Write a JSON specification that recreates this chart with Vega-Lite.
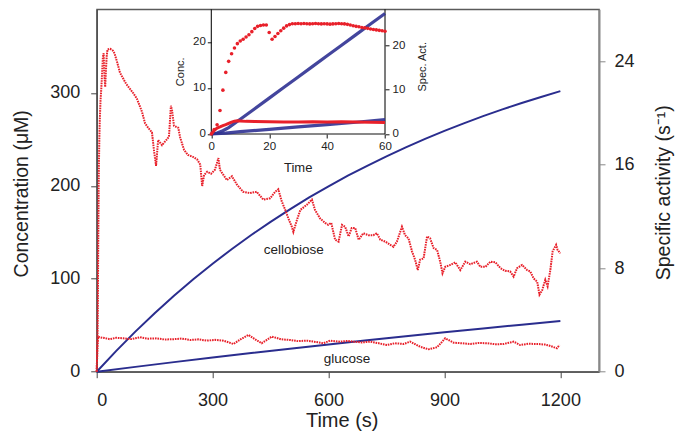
{
  "$schema": "https://vega.github.io/schema/vega-lite/v6.json",
  "width": 502.3,
  "height": 362.4,
  "autosize": {"type": "none"},
  "padding": {"left": 96.7, "top": 9.3, "right": 79, "bottom": 59.3},
  "background": "white",
  "config": {
    "font": "Liberation Sans",
    "view": {"stroke": "#5a5a5a", "strokeWidth": 1.3},
    "axis": {"grid": false, "labelFont": "Liberation Sans", "titleFont": "Liberation Sans", "labelColor": "#222", "titleColor": "#222", "titleFontWeight": "normal", "domainColor": "#444", "tickColor": "#444"}
  },
  "datasets": {
    "mainConc": [
      {"s": "hi", "t": 0, "c": 0}, {"s": "hi", "t": 50, "c": 22.2}, {"s": "hi", "t": 100, "c": 43.1}, {"s": "hi", "t": 150, "c": 62.9},
      {"s": "hi", "t": 200, "c": 81.7}, {"s": "hi", "t": 250, "c": 99.4}, {"s": "hi", "t": 300, "c": 116.2}, {"s": "hi", "t": 350, "c": 132.1},
      {"s": "hi", "t": 400, "c": 147.1}, {"s": "hi", "t": 450, "c": 161.3}, {"s": "hi", "t": 500, "c": 174.7}, {"s": "hi", "t": 550, "c": 187.5},
      {"s": "hi", "t": 600, "c": 199.5}, {"s": "hi", "t": 650, "c": 210.9}, {"s": "hi", "t": 700, "c": 221.6}, {"s": "hi", "t": 750, "c": 231.8},
      {"s": "hi", "t": 800, "c": 241.4}, {"s": "hi", "t": 850, "c": 250.5}, {"s": "hi", "t": 900, "c": 259.2}, {"s": "hi", "t": 950, "c": 267.3},
      {"s": "hi", "t": 1000, "c": 275.0}, {"s": "hi", "t": 1050, "c": 282.3}, {"s": "hi", "t": 1100, "c": 289.2}, {"s": "hi", "t": 1150, "c": 295.7},
      {"s": "hi", "t": 1200, "c": 301.9},
      {"s": "lo", "t": 0, "c": 0}, {"s": "lo", "t": 100, "c": 5.2}, {"s": "lo", "t": 200, "c": 10.3}, {"s": "lo", "t": 300, "c": 15.2},
      {"s": "lo", "t": 400, "c": 20.0}, {"s": "lo", "t": 500, "c": 24.7}, {"s": "lo", "t": 600, "c": 29.3}, {"s": "lo", "t": 700, "c": 33.8},
      {"s": "lo", "t": 800, "c": 38.2}, {"s": "lo", "t": 900, "c": 42.4}, {"s": "lo", "t": 1000, "c": 46.6}, {"s": "lo", "t": 1100, "c": 50.6},
      {"s": "lo", "t": 1200, "c": 54.6}
    ],
    "labels": [
      {"t": 510, "c": 131.5, "label": "cellobiose"},
      {"t": 648, "c": 13.3, "label": "glucose"}
    ],
    "mainAct": [
      {"s": "cel", "t": 0, "v": 0}, {"s": "cel", "t": 1, "v": 1.0}, {"s": "cel", "t": 2, "v": 2.1}, {"s": "cel", "t": 3, "v": 5.3},
      {"s": "cel", "t": 4, "v": 9.9}, {"s": "cel", "t": 5, "v": 13.9}, {"s": "cel", "t": 6, "v": 16.4}, {"s": "cel", "t": 7, "v": 18.1},
      {"s": "cel", "t": 8, "v": 19.4}, {"s": "cel", "t": 10, "v": 21.0}, {"s": "cel", "t": 12, "v": 21.9}, {"s": "cel", "t": 14, "v": 23.1},
      {"s": "cel", "t": 16, "v": 24.3}, {"s": "cel", "t": 18, "v": 24.6}, {"s": "cel", "t": 20, "v": 22.9}, {"s": "cel", "t": 22, "v": 22.0},
      {"s": "cel", "t": 24, "v": 23.3}, {"s": "cel", "t": 26, "v": 24.4}, {"s": "cel", "t": 28, "v": 24.9}, {"s": "cel", "t": 35, "v": 24.95},
      {"s": "cel", "t": 42, "v": 24.8}, {"s": "cel", "t": 46, "v": 24.6}, {"s": "cel", "t": 52.6, "v": 23.95}, {"s": "cel", "t": 60.3, "v": 23.1},
      {"s": "cel", "t": 76, "v": 22.25}, {"s": "cel", "t": 94, "v": 21.55}, {"s": "cel", "t": 104, "v": 21.1}, {"s": "cel", "t": 117, "v": 20.1},
      {"s": "cel", "t": 125, "v": 19.2}, {"s": "cel", "t": 133, "v": 18.85}, {"s": "cel", "t": 143, "v": 18.5}, {"s": "cel", "t": 148, "v": 17.15},
      {"s": "cel", "t": 153.6, "v": 15.9}, {"s": "cel", "t": 159, "v": 17.9}, {"s": "cel", "t": 169, "v": 17.5}, {"s": "cel", "t": 180, "v": 17.9},
      {"s": "cel", "t": 187, "v": 18.15}, {"s": "cel", "t": 192, "v": 20.55}, {"s": "cel", "t": 195, "v": 20.2}, {"s": "cel", "t": 200, "v": 19.0},
      {"s": "cel", "t": 211, "v": 18.85}, {"s": "cel", "t": 216, "v": 18.1}, {"s": "cel", "t": 226, "v": 17.15}, {"s": "cel", "t": 236, "v": 16.75},
      {"s": "cel", "t": 249, "v": 16.6}, {"s": "cel", "t": 260, "v": 16.4}, {"s": "cel", "t": 268, "v": 16.0}, {"s": "cel", "t": 273, "v": 14.35},
      {"s": "cel", "t": 278, "v": 15.2}, {"s": "cel", "t": 286, "v": 15.45}, {"s": "cel", "t": 296, "v": 15.3}, {"s": "cel", "t": 306, "v": 15.6},
      {"s": "cel", "t": 315, "v": 16.5}, {"s": "cel", "t": 319, "v": 15.6}, {"s": "cel", "t": 337, "v": 14.8}, {"s": "cel", "t": 350, "v": 15.1},
      {"s": "cel", "t": 363, "v": 14.45}, {"s": "cel", "t": 379, "v": 13.9}, {"s": "cel", "t": 397, "v": 13.8}, {"s": "cel", "t": 414, "v": 13.9},
      {"s": "cel", "t": 431, "v": 13.3}, {"s": "cel", "t": 449, "v": 13.4}, {"s": "cel", "t": 462, "v": 13.9}, {"s": "cel", "t": 470, "v": 14.1},
      {"s": "cel", "t": 479, "v": 13.15}, {"s": "cel", "t": 488, "v": 12.5}, {"s": "cel", "t": 496, "v": 11.85}, {"s": "cel", "t": 505, "v": 11.2},
      {"s": "cel", "t": 509, "v": 10.8}, {"s": "cel", "t": 518, "v": 11.7}, {"s": "cel", "t": 527, "v": 12.5}, {"s": "cel", "t": 544, "v": 12.9},
      {"s": "cel", "t": 557, "v": 13.3}, {"s": "cel", "t": 565, "v": 12.5}, {"s": "cel", "t": 578, "v": 11.85}, {"s": "cel", "t": 591, "v": 11.5},
      {"s": "cel", "t": 599, "v": 11.35}, {"s": "cel", "t": 607, "v": 11.5}, {"s": "cel", "t": 617, "v": 10.2}, {"s": "cel", "t": 626, "v": 10.05},
      {"s": "cel", "t": 635, "v": 11.35}, {"s": "cel", "t": 643, "v": 11.2}, {"s": "cel", "t": 652, "v": 10.45}, {"s": "cel", "t": 660, "v": 11.1},
      {"s": "cel", "t": 669, "v": 11.1}, {"s": "cel", "t": 678, "v": 10.2}, {"s": "cel", "t": 690, "v": 10.7}, {"s": "cel", "t": 703, "v": 10.55},
      {"s": "cel", "t": 716, "v": 10.55}, {"s": "cel", "t": 725, "v": 10.7}, {"s": "cel", "t": 734, "v": 10.2}, {"s": "cel", "t": 747, "v": 10.05},
      {"s": "cel", "t": 760, "v": 9.8}, {"s": "cel", "t": 768, "v": 9.65}, {"s": "cel", "t": 777, "v": 10.05}, {"s": "cel", "t": 790, "v": 11.2},
      {"s": "cel", "t": 798, "v": 10.55}, {"s": "cel", "t": 807, "v": 10.3}, {"s": "cel", "t": 816, "v": 9.3}, {"s": "cel", "t": 824, "v": 8.65},
      {"s": "cel", "t": 831, "v": 7.85}, {"s": "cel", "t": 837, "v": 8.65}, {"s": "cel", "t": 846, "v": 8.75}, {"s": "cel", "t": 855, "v": 10.45},
      {"s": "cel", "t": 863, "v": 10.3}, {"s": "cel", "t": 872, "v": 9.55}, {"s": "cel", "t": 881, "v": 9.4}, {"s": "cel", "t": 889, "v": 8.5},
      {"s": "cel", "t": 895, "v": 7.6}, {"s": "cel", "t": 902, "v": 8.1}, {"s": "cel", "t": 915, "v": 8.25}, {"s": "cel", "t": 928, "v": 8.45},
      {"s": "cel", "t": 941, "v": 7.85}, {"s": "cel", "t": 954, "v": 8.5}, {"s": "cel", "t": 967, "v": 8.3}, {"s": "cel", "t": 984, "v": 8.5},
      {"s": "cel", "t": 993, "v": 8.1}, {"s": "cel", "t": 1006, "v": 8.1}, {"s": "cel", "t": 1019, "v": 8.5}, {"s": "cel", "t": 1032, "v": 8.45},
      {"s": "cel", "t": 1045, "v": 8.0}, {"s": "cel", "t": 1057, "v": 7.8}, {"s": "cel", "t": 1070, "v": 7.75}, {"s": "cel", "t": 1079, "v": 7.35},
      {"s": "cel", "t": 1088, "v": 8.0}, {"s": "cel", "t": 1101, "v": 8.25}, {"s": "cel", "t": 1114, "v": 7.85}, {"s": "cel", "t": 1122, "v": 7.75},
      {"s": "cel", "t": 1131, "v": 7.2}, {"s": "cel", "t": 1140, "v": 6.95}, {"s": "cel", "t": 1146, "v": 5.95}, {"s": "cel", "t": 1153, "v": 6.3},
      {"s": "cel", "t": 1161, "v": 7.1}, {"s": "cel", "t": 1167, "v": 6.6}, {"s": "cel", "t": 1174, "v": 7.85}, {"s": "cel", "t": 1180, "v": 9.3},
      {"s": "cel", "t": 1189, "v": 9.8}, {"s": "cel", "t": 1193, "v": 9.4}, {"s": "cel", "t": 1200, "v": 9.15},
      {"s": "glu", "t": 0, "v": 0}, {"s": "glu", "t": 1, "v": 1.06}, {"s": "glu", "t": 1.5, "v": 1.68}, {"s": "glu", "t": 2, "v": 2.07},
      {"s": "glu", "t": 4, "v": 2.7}, {"s": "glu", "t": 8.5, "v": 2.66}, {"s": "glu", "t": 20, "v": 2.6}, {"s": "glu", "t": 34, "v": 2.51},
      {"s": "glu", "t": 50, "v": 2.62}, {"s": "glu", "t": 69, "v": 2.58}, {"s": "glu", "t": 90, "v": 2.52}, {"s": "glu", "t": 112, "v": 2.66},
      {"s": "glu", "t": 133, "v": 2.55}, {"s": "glu", "t": 155, "v": 2.58}, {"s": "glu", "t": 176, "v": 2.49}, {"s": "glu", "t": 198, "v": 2.51},
      {"s": "glu", "t": 220, "v": 2.56}, {"s": "glu", "t": 242, "v": 2.45}, {"s": "glu", "t": 263, "v": 2.5}, {"s": "glu", "t": 285, "v": 2.40},
      {"s": "glu", "t": 306, "v": 2.46}, {"s": "glu", "t": 328, "v": 2.40}, {"s": "glu", "t": 354, "v": 2.14}, {"s": "glu", "t": 372, "v": 2.5},
      {"s": "glu", "t": 393, "v": 2.84}, {"s": "glu", "t": 410, "v": 2.5}, {"s": "glu", "t": 427, "v": 2.2}, {"s": "glu", "t": 453, "v": 2.71},
      {"s": "glu", "t": 478, "v": 2.5}, {"s": "glu", "t": 501, "v": 2.45}, {"s": "glu", "t": 522, "v": 2.36}, {"s": "glu", "t": 544, "v": 2.40},
      {"s": "glu", "t": 566, "v": 2.3}, {"s": "glu", "t": 587, "v": 2.2}, {"s": "glu", "t": 604, "v": 2.40}, {"s": "glu", "t": 630, "v": 2.32},
      {"s": "glu", "t": 648, "v": 2.38}, {"s": "glu", "t": 665, "v": 2.32}, {"s": "glu", "t": 686, "v": 2.26}, {"s": "glu", "t": 708, "v": 2.32},
      {"s": "glu", "t": 730, "v": 2.2}, {"s": "glu", "t": 751, "v": 2.06}, {"s": "glu", "t": 772, "v": 2.2}, {"s": "glu", "t": 794, "v": 2.14},
      {"s": "glu", "t": 811, "v": 2.32}, {"s": "glu", "t": 837, "v": 1.93}, {"s": "glu", "t": 859, "v": 1.73}, {"s": "glu", "t": 881, "v": 1.89},
      {"s": "glu", "t": 902, "v": 2.58}, {"s": "glu", "t": 924, "v": 2.24}, {"s": "glu", "t": 945, "v": 2.2}, {"s": "glu", "t": 967, "v": 2.14},
      {"s": "glu", "t": 988, "v": 2.22}, {"s": "glu", "t": 1010, "v": 2.20}, {"s": "glu", "t": 1032, "v": 2.12}, {"s": "glu", "t": 1053, "v": 2.14},
      {"s": "glu", "t": 1079, "v": 2.32}, {"s": "glu", "t": 1096, "v": 2.06}, {"s": "glu", "t": 1118, "v": 2.16}, {"s": "glu", "t": 1140, "v": 2.14},
      {"s": "glu", "t": 1160, "v": 2.1}, {"s": "glu", "t": 1174, "v": 1.99}, {"s": "glu", "t": 1191, "v": 1.81}, {"s": "glu", "t": 1198, "v": 2.06}
    ],
    "insetConc": [
      {"s": "hi", "t": 0, "c": 0}, {"s": "hi", "t": 2, "c": 0.2}, {"s": "hi", "t": 4, "c": 0.7}, {"s": "hi", "t": 6, "c": 1.4},
      {"s": "hi", "t": 8, "c": 2.3}, {"s": "hi", "t": 10, "c": 3.2}, {"s": "hi", "t": 15, "c": 5.5}, {"s": "hi", "t": 20, "c": 7.8},
      {"s": "hi", "t": 25, "c": 10.1}, {"s": "hi", "t": 30, "c": 12.4}, {"s": "hi", "t": 35, "c": 14.7}, {"s": "hi", "t": 40, "c": 17.0},
      {"s": "hi", "t": 45, "c": 19.3}, {"s": "hi", "t": 50, "c": 21.6}, {"s": "hi", "t": 55, "c": 23.9}, {"s": "hi", "t": 60, "c": 26.2},
      {"s": "lo", "t": 0, "c": 0}, {"s": "lo", "t": 5, "c": 0.2}, {"s": "lo", "t": 10, "c": 0.5}, {"s": "lo", "t": 20, "c": 1.0},
      {"s": "lo", "t": 30, "c": 1.55}, {"s": "lo", "t": 40, "c": 2.05}, {"s": "lo", "t": 50, "c": 2.55}, {"s": "lo", "t": 60, "c": 3.1}
    ],
    "insetFrame": [
      {"x1": 0, "x2": 0, "y1": 0, "y2": 27.1},
      {"x1": 60, "x2": 60, "y1": 0, "y2": 27.1},
      {"x1": 0, "x2": 60, "y1": 0, "y2": 0}
    ],
    "insetAct": [
      {"s": "cel", "t": 0, "v": 0}, {"s": "cel", "t": 1, "v": 1.0}, {"s": "cel", "t": 2, "v": 2.1}, {"s": "cel", "t": 3, "v": 5.3},
      {"s": "cel", "t": 4, "v": 9.9}, {"s": "cel", "t": 5, "v": 13.9}, {"s": "cel", "t": 6, "v": 16.4}, {"s": "cel", "t": 7, "v": 18.1},
      {"s": "cel", "t": 8, "v": 19.4}, {"s": "cel", "t": 9, "v": 20.4}, {"s": "cel", "t": 10, "v": 21.0}, {"s": "cel", "t": 11, "v": 21.4},
      {"s": "cel", "t": 12, "v": 21.9}, {"s": "cel", "t": 13, "v": 22.4}, {"s": "cel", "t": 14, "v": 23.1}, {"s": "cel", "t": 15, "v": 23.8},
      {"s": "cel", "t": 16, "v": 24.3}, {"s": "cel", "t": 17, "v": 24.5}, {"s": "cel", "t": 18, "v": 24.6}, {"s": "cel", "t": 19, "v": 24.6},
      {"s": "cel", "t": 20, "v": 22.9}, {"s": "cel", "t": 21, "v": 21.4}, {"s": "cel", "t": 22, "v": 22.0}, {"s": "cel", "t": 23, "v": 22.7},
      {"s": "cel", "t": 24, "v": 23.3}, {"s": "cel", "t": 25, "v": 23.9}, {"s": "cel", "t": 26, "v": 24.4}, {"s": "cel", "t": 27, "v": 24.7},
      {"s": "cel", "t": 28, "v": 24.9}, {"s": "cel", "t": 29, "v": 24.9}, {"s": "cel", "t": 30, "v": 24.95}, {"s": "cel", "t": 31, "v": 24.9},
      {"s": "cel", "t": 32, "v": 24.95}, {"s": "cel", "t": 33, "v": 24.9}, {"s": "cel", "t": 34, "v": 24.85}, {"s": "cel", "t": 35, "v": 24.9},
      {"s": "cel", "t": 36, "v": 24.95}, {"s": "cel", "t": 37, "v": 24.9}, {"s": "cel", "t": 38, "v": 24.85}, {"s": "cel", "t": 39, "v": 24.9},
      {"s": "cel", "t": 40, "v": 24.85}, {"s": "cel", "t": 41, "v": 24.8}, {"s": "cel", "t": 42, "v": 24.85}, {"s": "cel", "t": 43, "v": 24.9},
      {"s": "cel", "t": 44, "v": 24.95}, {"s": "cel", "t": 45, "v": 24.9}, {"s": "cel", "t": 46, "v": 24.85}, {"s": "cel", "t": 47, "v": 24.75},
      {"s": "cel", "t": 48, "v": 24.6}, {"s": "cel", "t": 49, "v": 24.45}, {"s": "cel", "t": 50, "v": 24.3}, {"s": "cel", "t": 51, "v": 24.2},
      {"s": "cel", "t": 52, "v": 24.05}, {"s": "cel", "t": 53, "v": 23.95}, {"s": "cel", "t": 54, "v": 23.85}, {"s": "cel", "t": 55, "v": 23.7},
      {"s": "cel", "t": 56, "v": 23.6}, {"s": "cel", "t": 57, "v": 23.5}, {"s": "cel", "t": 58, "v": 23.4}, {"s": "cel", "t": 59, "v": 23.3},
      {"s": "cel", "t": 60, "v": 23.2},
      {"s": "glu", "t": 0, "v": 0}, {"s": "glu", "t": 1, "v": 0.8}, {"s": "glu", "t": 2, "v": 1.35}, {"s": "glu", "t": 3, "v": 1.6},
      {"s": "glu", "t": 4, "v": 1.9}, {"s": "glu", "t": 5, "v": 2.1}, {"s": "glu", "t": 6, "v": 2.4}, {"s": "glu", "t": 7, "v": 2.7},
      {"s": "glu", "t": 8, "v": 2.9}, {"s": "glu", "t": 9, "v": 3.0}, {"s": "glu", "t": 10, "v": 2.95}, {"s": "glu", "t": 12, "v": 2.85},
      {"s": "glu", "t": 15, "v": 2.8}, {"s": "glu", "t": 20, "v": 2.75}, {"s": "glu", "t": 25, "v": 2.7}, {"s": "glu", "t": 30, "v": 2.7},
      {"s": "glu", "t": 35, "v": 2.75}, {"s": "glu", "t": 40, "v": 2.7}, {"s": "glu", "t": 45, "v": 2.75}, {"s": "glu", "t": 50, "v": 2.7},
      {"s": "glu", "t": 55, "v": 2.65}, {"s": "glu", "t": 60, "v": 2.6}
    ]
  },
  "layer": [
    {
      "data": {"name": "mainConc"},
      "encoding": {
        "x": {"field": "t", "type": "quantitative", "scale": {"domain": [0, 1300], "nice": false, "zero": false},
          "axis": {"orient": "bottom", "values": [0, 300, 600, 900, 1200], "format": "d", "title": "Time  (s)", "titleFontSize": 20, "titleX": 245, "titleY": 49, "titleBaseline": "middle", "labelFontSize": 18, "tickSize": 6, "labelPadding": 14, "domainColor": "#444", "domainWidth": 1.3}},
        "y": {"field": "c", "type": "quantitative", "scale": {"domain": [0, 390], "nice": false},
          "axis": {"orient": "left", "values": [0, 100, 200, 300], "title": "Concentration  (μM)", "titleFontSize": 19.5, "titleX": -75, "titleY": 184, "titleBaseline": "middle", "labelFontSize": 18, "tickSize": 6, "labelPadding": 11, "domainColor": "#444", "domainWidth": 1.3}}
      },
      "layer": [
        {"mark": {"type": "line", "color": "#2a2d8e", "strokeWidth": 2}, "encoding": {"detail": {"field": "s"}}},
        {"data": {"name": "labels"}, "mark": {"type": "text", "fontSize": 13.5, "color": "#222", "font": "Liberation Sans", "baseline": "middle", "align": "center"}, "encoding": {"text": {"field": "label"}}}
      ]
    },
    {
      "data": {"name": "mainAct"},
      "encoding": {
        "x": {"field": "t", "type": "quantitative", "scale": {"domain": [0, 1300], "nice": false, "zero": false}, "axis": null},
        "y": {"field": "v", "type": "quantitative", "scale": {"domain": [0, 28], "nice": false},
          "axis": {"orient": "right", "values": [0, 8, 16, 24], "title": "Specific activity  (s⁻¹)", "titleFontSize": 19.5, "titleAngle": -90, "titleX": 64, "titleY": 183, "titleBaseline": "middle", "labelFontSize": 18, "tickSize": 6, "labelPadding": 9, "domainColor": "#888", "domainWidth": 2, "tickColor": "#888"}}
      },
      "layer": [
        {"mark": {"type": "line", "color": "#e8202a", "strokeWidth": 2, "strokeDash": [1.6, 0.9]}, "encoding": {"detail": {"field": "s"}}}
      ]
    },
    {
      "encoding": {
        "x": {"field": "t", "type": "quantitative", "scale": {"domain": [-39.59, 133.92], "nice": false, "zero": false},
          "axis": {"orient": "bottom", "offset": -237.7, "values": [0, 20, 40, 60], "domain": false, "title": "Time", "titleFontSize": 13, "titleX": 201, "titleY": 33, "titleBaseline": "middle", "labelFontSize": 11.5, "tickSize": 4, "labelPadding": 2, "tickColor": "#111"}},
        "y": {"field": "c", "type": "quantitative", "scale": {"domain": [-51.67, 27.1], "nice": false, "zero": false},
          "axis": {"orient": "left", "offset": -114.6, "values": [0, 10, 20], "domain": false, "title": "Conc.", "titleFontSize": 11, "titleX": -31, "titleY": 62, "titleBaseline": "middle", "labelFontSize": 11.5, "tickSize": 4, "labelPadding": 2, "tickColor": "#111"}}
      },
      "layer": [
        {"data": {"name": "insetFrame"}, "mark": {"type": "rule", "color": "#111", "strokeWidth": 1.1},
          "encoding": {"x": {"field": "x1", "type": "quantitative"}, "x2": {"field": "x2"}, "y": {"field": "y1", "type": "quantitative"}, "y2": {"field": "y2"}}},
        {"data": {"name": "insetConc"}, "mark": {"type": "line", "color": "#2f3192", "strokeWidth": 3.2, "opacity": 0.9}, "encoding": {"detail": {"field": "s"}}}
      ]
    },
    {
      "data": {"name": "insetAct"},
      "encoding": {
        "x": {"field": "t", "type": "quantitative", "scale": {"domain": [-39.59, 133.92], "nice": false, "zero": false}, "axis": null},
        "y": {"field": "v", "type": "quantitative", "scale": {"domain": [-53.66, 28.15], "nice": false, "zero": false},
          "axis": {"orient": "right", "offset": -214, "values": [0, 10, 20], "domain": false, "title": "Spec. Act.", "titleFontSize": 11, "titleAngle": -90, "titleX": 37, "titleY": 57, "titleBaseline": "middle", "labelFontSize": 11.5, "tickSize": 4, "labelPadding": 3, "tickColor": "#111"}}
      },
      "layer": [
        {"transform": [{"filter": "datum.s === 'glu'"}], "mark": {"type": "line", "color": "#e8202a", "strokeWidth": 3}},
        {"transform": [{"filter": "datum.s === 'cel'"}], "mark": {"type": "point", "filled": true, "color": "#e8202a", "size": 13, "opacity": 1}}
      ]
    }
  ],
  "resolve": {"scale": {"x": "independent", "y": "independent"}, "axis": {"x": "independent", "y": "independent"}}
}
